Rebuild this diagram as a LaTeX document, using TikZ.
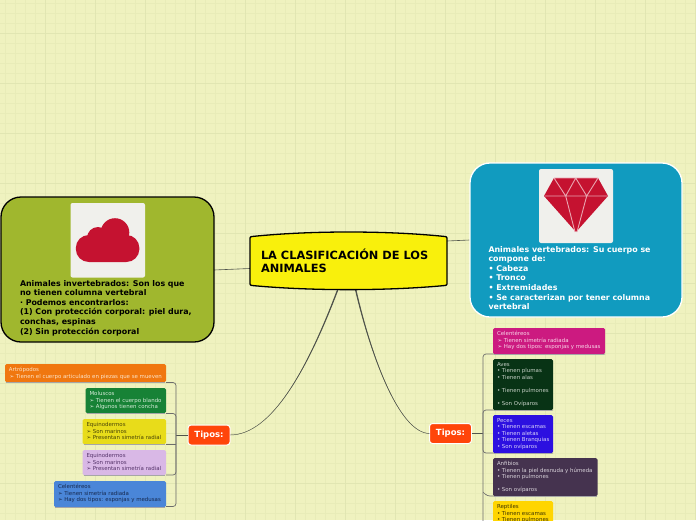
\documentclass[tikz,border=0pt]{standalone}
\usepackage{fontspec}
\setmainfont{DejaVu Sans}
\definecolor{paper}{HTML}{EFF2BF}
\definecolor{gridlo}{HTML}{E8ECB8}
\definecolor{gridhi}{HTML}{E1E6B2}
\definecolor{ruby}{HTML}{C51230}
\definecolor{tile}{HTML}{F0F0EC}
\definecolor{link}{HTML}{50544C}
\definecolor{hot}{HTML}{FF450A}
\definecolor{cOr}{HTML}{F0770F}\definecolor{tOr}{HTML}{FBE3C8}
\definecolor{cGr}{HTML}{178236}\definecolor{tGr}{HTML}{D5EBD8}
\definecolor{cYe}{HTML}{E8DC1A}\definecolor{tYe}{HTML}{4A4508}
\definecolor{cPi}{HTML}{D9B8E6}\definecolor{tPi}{HTML}{55336A}
\definecolor{cBl}{HTML}{4A86D8}\definecolor{tBl}{HTML}{16294F}
\definecolor{cMa}{HTML}{CC1A80}\definecolor{tMa}{HTML}{F8D5E8}
\definecolor{cAv}{HTML}{083315}\definecolor{tAv}{HTML}{C8D2C8}
\definecolor{cPe}{HTML}{2C10E0}\definecolor{tPe}{HTML}{D8D2F8}
\definecolor{cAn}{HTML}{45334F}\definecolor{tAn}{HTML}{D8D2DA}
\definecolor{cRe}{HTML}{FFD500}\definecolor{tRe}{HTML}{3F3500}
\tikzset{
  x=1pt,y=-1pt,
  every node/.style={inner sep=0pt,outer sep=0pt},
  leaftext/.style={anchor=north west,align=left,font=\fontsize{5.45}{6.5}\selectfont,inner sep=0pt},
  topic/.style={draw=white,line width=1pt,fill=hot,rounded corners=3pt,font=\fontsize{8.5}{10}\bfseries\selectfont,text=white,minimum width=42pt,minimum height=20pt},
  bodytext/.style={anchor=north west,align=left,font=\fontsize{7.9}{9.6}\bfseries\selectfont},
  branch/.style={draw=link,line width=.6pt},
  stem/.style={draw=link,line width=.9pt},
  bracket/.style={draw=gray!85!black,line width=.7pt,rounded corners=3pt},
}
\newcommand{\leafbox}[8]{% name,x1,y1,x2,y2,fill,textcolor,text
  \fill[#6,rounded corners=1.5pt] (#2,#3) rectangle (#4,#5);
  \draw[black!35,line width=.5pt] (#2+1,#5) -- (#4-1,#5);
  \node[leaftext,text=#7] (#1) at (#2+4,#3+3.4) {#8};
}
\begin{document}
\begin{tikzpicture}
\useasboundingbox (0,0) rectangle (696,520);
\fill[paper] (0,0) rectangle (696,520);
\foreach \i in {0,...,69} {
  \pgfmathsetmacro{\gx}{5+10*\i}
  \draw[gridlo,line width=.7pt] (\gx,0) -- (\gx,520);
}
\foreach \i in {0,...,51} {
  \pgfmathsetmacro{\gy}{3+10*\i}
  \draw[gridlo,line width=.7pt] (0,\gy) -- (696,\gy);
}
\foreach \i in {0,...,13} {
  \pgfmathsetmacro{\gx}{45+50*\i}
  \draw[gridhi,line width=.8pt] (\gx,0) -- (\gx,520);
}
\foreach \i in {0,...,10} {
  \pgfmathsetmacro{\gy}{33+50*\i}
  \draw[gridhi,line width=.8pt] (0,\gy) -- (696,\gy);
}
% anchors
\coordinate (cL) at (250,268.5);
\coordinate (cR) at (447,241);
\coordinate (cBL) at (338,289);
\coordinate (cBR) at (355.5,289);
\coordinate (lstem) at (176,435);
\coordinate (rstem) at (483,433.5);
\coordinate (mainl) at (214,270);
\coordinate (mainr) at (469.5,240);
\node[topic] (tl) at (209,435) {Tipos:};
\node[topic] (tr) at (450.5,433.5) {Tipos:};
% links
\draw[branch] (mainl) -- (cL);
\draw[branch] (cR) -- (mainr);
\fill[link] (337.3,289) .. controls (307.5,368) and (272,435) .. (tl.east) .. controls (272,434.7) and (308.5,368.4) .. (338.7,289) -- cycle;
\draw[branch,line width=.4pt] (cBL) .. controls (308,368) and (272,435) .. (tl.east);
\fill[link] (354.8,289) .. controls (371.5,360) and (400,433) .. (tr.west) .. controls (400,432.7) and (372.5,360) .. (356.2,289) -- cycle;
\draw[branch,line width=.4pt] (cBR) .. controls (372,360) and (400,433) .. (tr.west);
\draw[stem] (tl.west) -- (lstem);
\draw[stem] (tr.east) -- (rstem);
% main left
\node[draw=black,fill={rgb,255:red,160;green,183;blue,46},line width=1.3pt,rounded corners=20pt,minimum width=213pt,minimum height=145pt] (ml) at (107.5,269.5) {};
\fill[tile,rounded corners=2pt] (70.5,203) rectangle (145,277.5);
\fill[ruby] (115,232.5) circle[radius=14.3];
\fill[ruby] (98,238) circle[radius=11];
\fill[ruby,rounded corners=13pt] (75.8,235) rectangle (139.4,262);
\node[bodytext,text=black] (mlt) at (20,280) {Animales invertebrados: Son los que\\no tienen columna vertebral\\· Podemos encontrarlos:\\(1) Con protección corporal: piel dura,\\conchas, espinas\\(2) Sin protección corporal};
% main right
\node[draw=white,fill={rgb,255:red,17;green,155;blue,191},line width=1.3pt,rounded corners=20pt,minimum width=212pt,minimum height=154pt] (mr) at (576,240) {};
\fill[tile,rounded corners=2pt] (539,169) rectangle (613,243);
\fill[ruby] (554,178) -- (598,178) -- (608,196) -- (576,232) -- (544,196) -- cycle;
\draw[white!62!ruby,line width=.9pt] (544.5,196) -- (607.5,196) (554,178) -- (598,178)
  (554,178) -- (565.7,196) -- (575,232) (575.7,178) -- (565.7,196)
  (575.7,178) -- (586.7,196) -- (577,232) (598,178) -- (586.7,196);
\node[bodytext,text=white] (mrt) at (488.5,246) {Animales vertebrados: Su cuerpo se\\compone de:\\• Cabeza\\• Tronco\\• Extremidades\\• Se caracterizan por tener columna\\vertebral};
% central
\path[draw=black,line width=1.3pt,fill={rgb,255:red,249;green,240;blue,12}] (250,238) .. controls (250,237) and (251,236.7) .. (252,236.5) .. controls (310,230.5) and (387,230.5) .. (445,236.5) .. controls (446,236.7) and (447,237) .. (447,238) -- (447,284) .. controls (447,285) and (446,285.3) .. (445,285.5) .. controls (387,291) and (310,291) .. (252,285.5) .. controls (251,285.3) and (250,285) .. (250,284) -- cycle;
\node[anchor=north west,align=left,font=\fontsize{11.35}{13}\bfseries\selectfont,text=black] (ct) at (261,249) {LA CLASIFICACIÓN DE LOS\\ANIMALES};
% left brackets
\draw[bracket] (166,382.5) -- (176,382.5) -- (176,506.5) -- (166,506.5);
\draw[bracket] (166,413.5) -- (176,413.5) -- (176,475) -- (166,475);
\draw[bracket] (166,444.5) -- (176,444.5);
% right brackets
\draw[bracket] (605,354) -- (483,354) -- (483,526);
\draw[bracket] (553,410) -- (483,410) -- (483,453) -- (553,453);
\draw[bracket] (597,496) -- (487,496) -- (483,492);
% left leaves
\leafbox{a1}{5}{364}{166}{382}{cOr}{tOr}{Artrópodos\\\hspace{.6pt}➢ Tienen el cuerpo articulado en piezas que se mueven}
\leafbox{a2}{85.5}{388}{166}{413}{cGr}{tGr}{Moluscos\\➢ Tienen el cuerpo blando\\➢ Algunos tienen concha}
\leafbox{a3}{82.5}{419}{166}{444}{cYe}{tYe}{Equinodermos\\➢ Son marinos\\➢ Presentan simetría radial}
\leafbox{a4}{82.5}{450}{166}{475}{cPi}{tPi}{Equinodermos\\➢ Son marinos\\➢ Presentan simetría radial}
\leafbox{a5}{54}{481}{166}{507}{cBl}{tBl}{Celentéreos\\➢ Tienen simetría radiada\\➢ Hay dos tipos: esponjas y medusas}
% right leaves
\leafbox{b1}{493}{328}{605}{354}{cMa}{tMa}{Celentéreos\\\hspace{.6pt}➢ Tienen simetría radiada\\\hspace{.6pt}➢ Hay dos tipos: esponjas y medusas}
\leafbox{b2}{493}{359}{553}{410}{cAv}{tAv}{Aves\\• Tienen plumas\\• Tienen alas\\[6.5pt]• Tienen pulmones\\[6.5pt]• Son  Ovíparos}
\leafbox{b3}{493}{415}{553}{453}{cPe}{tPe}{Peces\\• Tienen escamas\\• Tienen aletas\\• Tienen Branquias\\• Son ovíparos}
\leafbox{b4}{493}{458}{597.5}{496}{cAn}{tAn}{Anfibios\\• Tienen la piel desnuda y húmeda\\• Tienen pulmones\\[6.5pt]• Son ovíparos}
\leafbox{b5}{493}{501}{553}{530}{cRe}{tRe}{Reptiles\\• Tienen escamas\\• Tienen pulmones}
\end{tikzpicture}
\end{document}
